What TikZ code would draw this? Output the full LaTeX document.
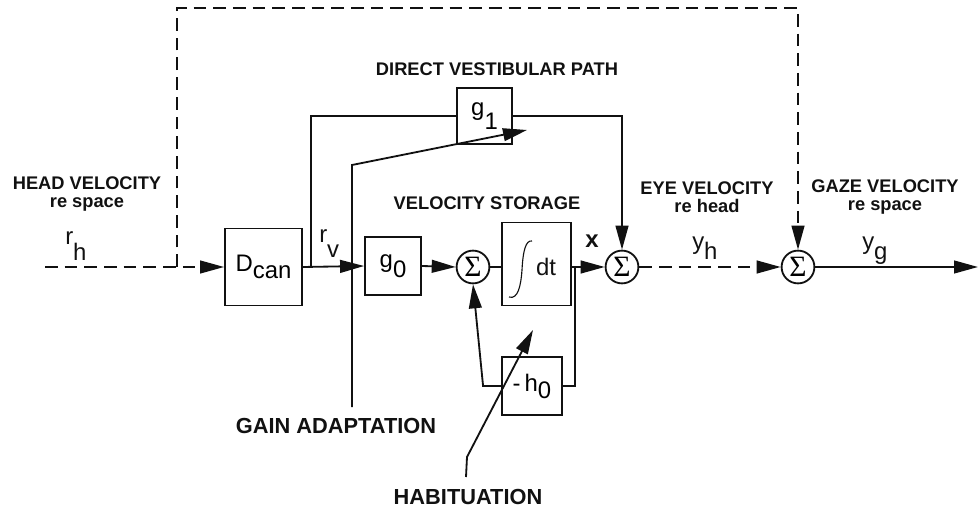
\documentclass[tikz,border=0pt]{standalone}
\usepackage{fontspec}
\setmainfont{Liberation Sans}
\newfontfamily\sigfont{Liberation Serif}
\usepackage{xcolor}
\usepackage{tikz}
\usetikzlibrary{arrows.meta,positioning,calc}
\definecolor{vorink}{HTML}{111111}
\newcommand{\sig}[3][7pt]{#2\raisebox{-#1}{#3}}
\tikzset{
  ln/.style={draw=vorink,line width=1.3pt},
  ar/.style={ln,-{Triangle[length=6mm,width=3.2mm]}},
  dsh/.style={dash pattern=on 9pt off 5pt},
  blk/.style={ln,inner sep=0pt,font=\fontsize{17}{17}\selectfont},
  sumnode/.style={ln,circle,minimum size=8.2mm,inner sep=0pt,font=\sigfont\fontsize{21}{21}\selectfont},
  sym/.style={inner sep=0pt,text=vorink,font=\fontsize{17}{17}\selectfont},
  lbltxt/.style={inner sep=0pt,align=center,text=vorink,font=\fontsize{13}{13}\selectfont\bfseries},
  biglbl/.style={lbltxt,font=\fontsize{15.5}{16}\selectfont\bfseries},
}
\begin{document}
\begin{tikzpicture}[x=0.025cm,y=-0.025cm]
  \useasboundingbox (0,0) rectangle (980,511);
  % blocks
  \node[blk,minimum width=19.25mm,minimum height=19.25mm] (dcan) at (263.5,267) {\sig[4.5pt]{D}{can}};
  \node[blk,minimum width=14mm,minimum height=14.5mm] (gzero) at (393,266) {\sig{g}{0}};
  \node[blk,minimum width=13.75mm,minimum height=14mm] (gone) at (484.5,116) {\sig[10.5pt]{g}{1}};
  \node[sumnode] (sumA) at (473,267) {Σ};
  \node[blk,minimum width=17.25mm,minimum height=20.75mm] (intg) at (536.5,264) {};
  \node[sym] (dt) at (546,267) {dt};
  \node[blk,minimum width=15mm,minimum height=14.5mm] (hzero) at (532,386) {-\,\sig[5pt]{h}{0}};
  \node[sumnode] (sumB) at (622,267) {Σ};
  \node[sumnode] (sumC) at (798,267) {Σ};
  \draw[vorink,line width=0.8pt] (509,297) .. controls (518,300) and (521,285) .. (522,270)
    .. controls (523,250) and (526,240) .. (532,241);
  % points on the lines
  \coordinate (in) at (45,267);
  \coordinate (tap) at (177,267);
  \coordinate (topR) at (798,8);
  \coordinate (split) at (311,267);
  \coordinate (fb) at (575,267);
  \coordinate (out) at (978,267);
  \coordinate (gaintail) at (352,407);
  \coordinate (gainknee) at (352,165);
  \coordinate (gaintip) at (527,130);
  \coordinate (habtail) at (466,477);
  \coordinate (habknee) at (467,457);
  \coordinate (habtip) at (533,330);
  % connectors
  \draw[ar,dsh] (in) -- (dcan.west);
  \draw[ar,dsh] (tap) |- (topR) -- (sumC.north);
  \draw[ar] (dcan.east) -- (gzero.west);
  \draw[ln] (split) |- (gone.west);
  \draw[ar] (gone.east) -| (sumB.north);
  \draw[ar] (gzero.east) -- (sumA.west);
  \draw[ln] (sumA.east) -- (sumA.east -| intg.west);
  \draw[ar] (intg.east |- sumB) -- (sumB.west);
  \draw[ln] (fb) |- (hzero.east);
  \draw[ar] (hzero.west) -- ++(-18,0) -- (sumA.south);
  \draw[ar,dsh] (sumB.east) -- (sumC.west);
  \draw[ar] (sumC.east) -- (out);
  \draw[ar] (gaintail) -- (gainknee) -- (gaintip);
  \draw[ar] (habtail) -- (habknee) -- (habtip);
  % signal names
  \node[sym,anchor=base west] (rh) at (65,245) {\sig[11pt]{r}{h}};
  \node[sym,anchor=base west] (rv) at (319,243) {\sig[10.5pt]{r}{v}};
  \node[sym,anchor=base west,font=\fontsize{17}{17}\selectfont\bfseries] (xlbl) at (585,248) {x};
  \node[sym,anchor=base west] (yh) at (692,250) {\sig{y}{h}};
  \node[sym,anchor=base west] (yg) at (862,250) {\sig{y}{g}};
  % captions
  \node[lbltxt] (headlbl) at (87,194) {HEAD VELOCITY\\re space};
  \node[lbltxt] (eyelbl) at (707,197) {EYE VELOCITY\\re head};
  \node[lbltxt] (gazelbl) at (885,197) {GAZE VELOCITY\\re space};
  \node[lbltxt] (vslbl) at (487,203) {VELOCITY STORAGE};
  \node[lbltxt] (dvplbl) at (497,69) {DIRECT VESTIBULAR PATH};
  \node[biglbl] (gainlbl) at (336,426) {GAIN ADAPTATION};
  \node[biglbl] (hablbl) at (468,497) {HABITUATION};
\end{tikzpicture}
\end{document}
